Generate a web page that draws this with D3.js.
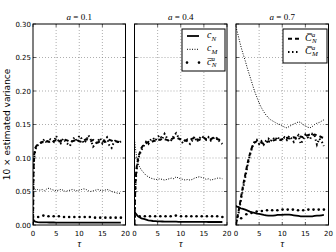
<!DOCTYPE html>
<html>
<head>
<meta charset="utf-8">
<script src="https://cdn.jsdelivr.net/npm/d3@7"></script>
<style>
body { margin: 0; background: #fff; }
</style>
</head>
<body>
<div id="chart"></div>
<script>
// time grid of the line series
var tau = [0, 0.1, 0.25, 0.5, 0.75,
  1, 1.5, 2, 2.5, 3, 3.5, 4, 4.5, 5, 5.5, 6, 6.5, 7, 7.5, 8, 8.5, 9, 9.5,
  10, 10.5, 11, 11.5, 12, 12.5, 13, 13.5, 14, 14.5, 15, 15.5, 16, 16.5, 17, 17.5, 18, 18.5, 19];
// time grid of the marker series
var tauDots = [0, 1.12, 2.24, 3.35, 4.47, 5.59, 6.71, 7.82, 8.94, 10.06, 11.18, 12.29, 13.41, 14.53, 15.65, 16.76, 17.88, 19];

var aValues = ["0.1", "0.4", "0.7"];
var yTicks = [0, 0.05, 0.10, 0.15, 0.20, 0.25, 0.30];
var xTicks = [0, 5, 10, 15, 20];

// a = 0.1
var cN_a01 = [0.010, 0.008, 0.006, 0.005, 0.0045,
  0.0042, 0.004, 0.0039, 0.0038, 0.0038, 0.0037, 0.0037, 0.0037, 0.0036, 0.0036, 0.0036, 0.0036, 0.0036, 0.0035,
  0.0035, 0.0035, 0.0035, 0.0035, 0.0035, 0.0035, 0.0035, 0.0035, 0.0035, 0.0035, 0.0035, 0.0035, 0.0035, 0.0035,
  0.0035, 0.0035, 0.0035, 0.0035, 0.0035, 0.0035, 0.0035, 0.0035, 0.0035];
var cM_a01 = [0.056, 0.055, 0.054, 0.053, 0.052,
  0.053, 0.052, 0.053, 0.051, 0.054, 0.055, 0.053, 0.052, 0.051, 0.052, 0.053, 0.052, 0.050, 0.051,
  0.052, 0.053, 0.052, 0.051, 0.052, 0.053, 0.054, 0.053, 0.051, 0.050, 0.051, 0.052, 0.053, 0.052,
  0.051, 0.052, 0.053, 0.052, 0.050, 0.049, 0.048, 0.047, 0.048];
var bcN_a01 = [0.012, 0.012, 0.014, 0.013, 0.013, 0.013, 0.012, 0.012, 0.012, 0.012, 0.012, 0.012, 0.011, 0.011, 0.011, 0.011, 0.011, 0.011];
var CN_a01 = [0.0, 0.08, 0.105, 0.115, 0.118,
  0.120, 0.122, 0.124, 0.123, 0.125, 0.124, 0.126, 0.125, 0.127, 0.124, 0.126, 0.125, 0.127, 0.126,
  0.124, 0.125, 0.126, 0.127, 0.125, 0.124, 0.126, 0.128, 0.126, 0.125, 0.127, 0.124, 0.123, 0.125,
  0.126, 0.124, 0.125, 0.127, 0.126, 0.124, 0.125, 0.124, 0.123];
var CM_a01 = [0.0, 0.075, 0.10, 0.112, 0.117,
  0.119, 0.121, 0.125, 0.128, 0.122, 0.129, 0.127, 0.124, 0.133, 0.126, 0.122, 0.129, 0.125, 0.121,
  0.118, 0.127, 0.131, 0.124, 0.133, 0.129, 0.122, 0.126, 0.134, 0.127, 0.117, 0.121, 0.125, 0.130,
  0.122, 0.128, 0.131, 0.119, 0.115, 0.124, 0.127, 0.122, 0.125];

// a = 0.4
var cN_a04 = [0.020, 0.019, 0.017, 0.015, 0.013,
  0.012, 0.010, 0.009, 0.008, 0.007, 0.0065, 0.006, 0.0058, 0.0055, 0.0053, 0.0052, 0.005, 0.005, 0.005,
  0.005, 0.0049, 0.0049, 0.0048, 0.0048, 0.0048, 0.0048, 0.0047, 0.0047, 0.0047, 0.0047, 0.0046, 0.0046, 0.0046,
  0.0046, 0.0046, 0.0045, 0.0045, 0.0045, 0.0045, 0.0045, 0.0045, 0.0045];
var cM_a04 = [0.128, 0.122, 0.112, 0.100, 0.093,
  0.088, 0.082, 0.078, 0.074, 0.072, 0.070, 0.069, 0.068, 0.068, 0.069, 0.068, 0.067, 0.068, 0.069,
  0.070, 0.069, 0.072, 0.070, 0.069, 0.068, 0.067, 0.068, 0.067, 0.068, 0.070, 0.071, 0.072, 0.071,
  0.070, 0.068, 0.069, 0.067, 0.068, 0.069, 0.070, 0.070, 0.069];
var bcN_a04 = [0.013, 0.013, 0.013, 0.013, 0.013, 0.013, 0.013, 0.013, 0.014, 0.013, 0.013, 0.013, 0.013, 0.013, 0.013, 0.013, 0.013, 0.012];
var CN_a04 = [0.0, 0.04, 0.07, 0.088, 0.098,
  0.105, 0.115, 0.120, 0.122, 0.124, 0.123, 0.125, 0.126, 0.128, 0.127, 0.129, 0.128, 0.127, 0.126,
  0.128, 0.130, 0.131, 0.129, 0.128, 0.127, 0.126, 0.128, 0.127, 0.129, 0.130, 0.128, 0.127, 0.129,
  0.130, 0.128, 0.127, 0.128, 0.130, 0.129, 0.128, 0.127, 0.126];
var CM_a04 = [0.0, 0.035, 0.065, 0.085, 0.095,
  0.103, 0.112, 0.118, 0.124, 0.121, 0.127, 0.130, 0.126, 0.131, 0.134, 0.128, 0.136, 0.130, 0.124,
  0.127, 0.133, 0.137, 0.131, 0.126, 0.122, 0.128, 0.124, 0.121, 0.126, 0.132, 0.124, 0.129, 0.133,
  0.130, 0.127, 0.131, 0.126, 0.129, 0.132, 0.128, 0.124, 0.121];

// a = 0.7
var cN_a07 = [0.028, 0.028, 0.027, 0.027, 0.026,
  0.025, 0.024, 0.023, 0.0215, 0.020, 0.019, 0.018, 0.017, 0.0165, 0.016, 0.015, 0.0145, 0.014, 0.014,
  0.014, 0.0145, 0.015, 0.015, 0.015, 0.0155, 0.0155, 0.0155, 0.015, 0.0145, 0.014, 0.0135, 0.013, 0.013,
  0.013, 0.013, 0.013, 0.013, 0.0135, 0.014, 0.014, 0.0145, 0.015];
var cM_a07 = [0.296, 0.293, 0.289, 0.282, 0.275,
  0.268, 0.256, 0.245, 0.233, 0.222, 0.211, 0.200, 0.191, 0.182, 0.175, 0.169, 0.164, 0.160, 0.157,
  0.155, 0.153, 0.151, 0.150, 0.148, 0.146, 0.145, 0.147, 0.149, 0.151, 0.152, 0.154, 0.153, 0.150,
  0.148, 0.146, 0.145, 0.147, 0.150, 0.152, 0.153, 0.155, 0.157];
var bcN_a07 = [0.005, 0.010, 0.016, 0.018, 0.020, 0.021, 0.022, 0.022, 0.022, 0.023, 0.023, 0.023, 0.022, 0.022, 0.023, 0.023, 0.023, 0.023];
var CN_a07 = [0.0, 0.005, 0.010, 0.018, 0.028,
  0.038, 0.058, 0.075, 0.092, 0.106, 0.117, 0.123, 0.125, 0.124, 0.123, 0.121, 0.123, 0.125, 0.124,
  0.126, 0.127, 0.128, 0.127, 0.128, 0.129, 0.130, 0.129, 0.130, 0.131, 0.130, 0.131, 0.132, 0.131,
  0.133, 0.134, 0.135, 0.134, 0.135, 0.134, 0.133, 0.131, 0.130];
var CM_a07 = [0.0, 0.004, 0.009, 0.016, 0.025,
  0.034, 0.054, 0.071, 0.089, 0.104, 0.116, 0.124, 0.127, 0.121, 0.125, 0.120, 0.126, 0.129, 0.125,
  0.130, 0.127, 0.132, 0.126, 0.128, 0.131, 0.127, 0.133, 0.129, 0.124, 0.130, 0.134, 0.121, 0.127,
  0.135, 0.131, 0.128, 0.136, 0.133, 0.120, 0.129, 0.125, 0.118];

// legend labels (math: base letter, overline, superscript, subscript)
var legendMid = [
  {key: "cN", base: "c", sub: "N"},
  {key: "cM", base: "c", sub: "M"},
  {key: "bcN", base: "c", bar: true, sup: "a", sub: "N"}
];
var legendRight = [
  {key: "CN", base: "C", bar: true, sup: "a", sub: "N"},
  {key: "CM", base: "C", bar: true, sup: "a", sub: "M"}
];

var panels = [
  {a: aValues[0], cN: cN_a01, cM: cM_a01, bcN: bcN_a01, CN: CN_a01, CM: CM_a01, legend: null},
  {a: aValues[1], cN: cN_a04, cM: cM_a04, bcN: bcN_a04, CN: CN_a04, CM: CM_a04, legend: legendMid, lx: 47.5, lw: 43, lh: 42, tx: 25},
  {a: aValues[2], cN: cN_a07, cM: cM_a07, bcN: bcN_a07, CN: CN_a07, CM: CM_a07, legend: legendRight, lx: 47, lw: 44, lh: 34, tx: 22}
];

var styles = {
  cN: {w: 1.8, dash: null},
  cM: {w: 1, dash: "1,1.5"},
  CN: {w: 2, dash: "4,3"},
  CM: {w: 2, dash: "1.5,2.5"},
  bcN: {marker: true}
};

var W = 336, H = 252;
var mTop = 24, mBottom = 225, left0 = 33, pw = 92.5, gap = 9;
var ph = mBottom - mTop;
var tickFont = "'DejaVu Sans', sans-serif";
var mathFont = "'Liberation Serif', 'DejaVu Serif', serif";

var svg = d3.select("#chart").append("svg")
  .attr("width", W)
  .attr("height", H);

var x = d3.scaleLinear().domain([0, 20]).range([0, pw]);
var y = d3.scaleLinear().domain([0, 0.3]).range([ph, 0]);

var line = d3.line()
  .x(function(d, i) { return x(tau[i]); })
  .y(function(d) { return y(d); });

function mathLabel(sel, m, size) {
  var t = sel.append("text")
    .attr("font-family", mathFont)
    .attr("font-style", "italic")
    .attr("font-size", size);
  t.append("tspan").text(m.base + (m.bar ? "\u0305" : ""));
  if (m.sup) {
    t.append("tspan").attr("font-size", size * 0.7).attr("dy", -size * 0.4).text(m.sup);
    t.append("tspan").attr("font-size", size * 0.7).attr("dx", -size * 0.32).attr("dy", size * 0.65).text(m.sub);
  } else {
    t.append("tspan").attr("font-size", size * 0.7).attr("dy", size * 0.25).text(m.sub);
  }
  return t;
}

function strokeSeries(g, key, values) {
  var s = styles[key];
  g.append("path")
    .datum(values)
    .attr("d", line)
    .attr("fill", "none")
    .attr("stroke", "#000")
    .attr("stroke-width", s.w)
    .attr("stroke-dasharray", s.dash);
}

panels.forEach(function(p, i) {
  var g = svg.append("g")
    .attr("transform", "translate(" + (left0 + i * (pw + gap)) + "," + mTop + ")");

  g.append("clipPath").attr("id", "clip" + i)
    .append("rect").attr("width", pw).attr("height", ph);

  // grid
  g.selectAll(".gx").data(xTicks.slice(1, -1)).enter().append("line")
    .attr("x1", function(d) { return x(d); })
    .attr("x2", function(d) { return x(d); })
    .attr("y1", 0).attr("y2", ph)
    .attr("stroke", "#777").attr("stroke-width", 0.6).attr("stroke-dasharray", "1,2");
  g.selectAll(".gy").data(yTicks.slice(1, -1)).enter().append("line")
    .attr("y1", function(d) { return y(d); })
    .attr("y2", function(d) { return y(d); })
    .attr("x1", 0).attr("x2", pw)
    .attr("stroke", "#777").attr("stroke-width", 0.6).attr("stroke-dasharray", "1,2");

  var plot = g.append("g").attr("clip-path", "url(#clip" + i + ")");
  strokeSeries(plot, "cM", p.cM);
  strokeSeries(plot, "CN", p.CN);
  strokeSeries(plot, "CM", p.CM);
  strokeSeries(plot, "cN", p.cN);
  plot.selectAll(".dot").data(p.bcN).enter().append("circle")
    .attr("cx", function(d, k) { return x(tauDots[k]); })
    .attr("cy", function(d) { return y(d); })
    .attr("r", 1.3)
    .attr("fill", "#000");

  // inward ticks
  var ticks = g.append("g").attr("stroke", "#000").attr("stroke-width", 0.6);
  xTicks.forEach(function(t) {
    ticks.append("line").attr("x1", x(t)).attr("x2", x(t)).attr("y1", ph).attr("y2", ph - 3);
    ticks.append("line").attr("x1", x(t)).attr("x2", x(t)).attr("y1", 0).attr("y2", 3);
  });
  yTicks.forEach(function(t) {
    ticks.append("line").attr("y1", y(t)).attr("y2", y(t)).attr("x1", 0).attr("x2", 3);
    ticks.append("line").attr("y1", y(t)).attr("y2", y(t)).attr("x1", pw).attr("x2", pw - 3);
  });

  // frame
  g.append("rect")
    .attr("width", pw).attr("height", ph)
    .attr("fill", "none").attr("stroke", "#000").attr("stroke-width", 1);

  // x tick labels
  g.selectAll(".xl").data(xTicks).enter().append("text")
    .attr("x", function(d) { return x(d); })
    .attr("y", ph + 10.5)
    .attr("text-anchor", "middle")
    .attr("font-family", tickFont)
    .attr("font-size", 7)
    .text(function(d) { return d; });

  // y tick labels, first panel only
  if (i === 0) {
    g.selectAll(".yl").data(yTicks).enter().append("text")
      .attr("x", -2)
      .attr("y", function(d) { return y(d) + 2.5; })
      .attr("text-anchor", "end")
      .attr("font-family", tickFont)
      .attr("font-size", 7)
      .text(function(d) { return d3.format(".2f")(d); });
  }

  // title
  var title = g.append("text")
    .attr("x", pw / 2).attr("y", -4.5)
    .attr("text-anchor", "middle")
    .attr("font-family", mathFont)
    .attr("font-size", 9);
  title.append("tspan").attr("font-style", "italic").text("a");
  title.append("tspan").text(" = " + p.a);

  // x label
  g.append("text")
    .attr("x", pw / 2).attr("y", ph + 22)
    .attr("text-anchor", "middle")
    .attr("font-family", mathFont)
    .attr("font-style", "italic")
    .attr("font-size", 10)
    .text("\u03c4");

  // legend
  if (p.legend) {
    var lg = g.append("g").attr("transform", "translate(" + p.lx + ",5)");
    lg.append("rect")
      .attr("width", p.lw).attr("height", p.lh)
      .attr("fill", "#fff").attr("stroke", "#000").attr("stroke-width", 1);
    var n = p.legend.length;
    var rowH = 13.3;
    var y0 = (p.lh - (n - 1) * rowH) / 2 - 0.7;
    p.legend.forEach(function(m, k) {
      var ry = y0 + k * rowH;
      var s = styles[m.key];
      if (s.marker) {
        [5, 17].forEach(function(px) {
          lg.append("circle").attr("cx", px).attr("cy", ry).attr("r", 1.3).attr("fill", "#000");
        });
      } else {
        lg.append("line")
          .attr("x1", 5).attr("x2", 17).attr("y1", ry).attr("y2", ry)
          .attr("stroke", "#000").attr("stroke-width", s.w)
          .attr("stroke-dasharray", s.dash);
      }
      mathLabel(lg, m, 10)
        .attr("x", p.tx)
        .attr("y", ry + 2);
    });
  }
});

// y axis label
svg.append("text")
  .attr("transform", "translate(10," + (mTop + ph / 2) + ") rotate(-90)")
  .attr("text-anchor", "middle")
  .attr("font-family", tickFont)
  .attr("font-size", 9)
  .text("10 \u00d7 estimated variance");
</script>
</body>
</html>
